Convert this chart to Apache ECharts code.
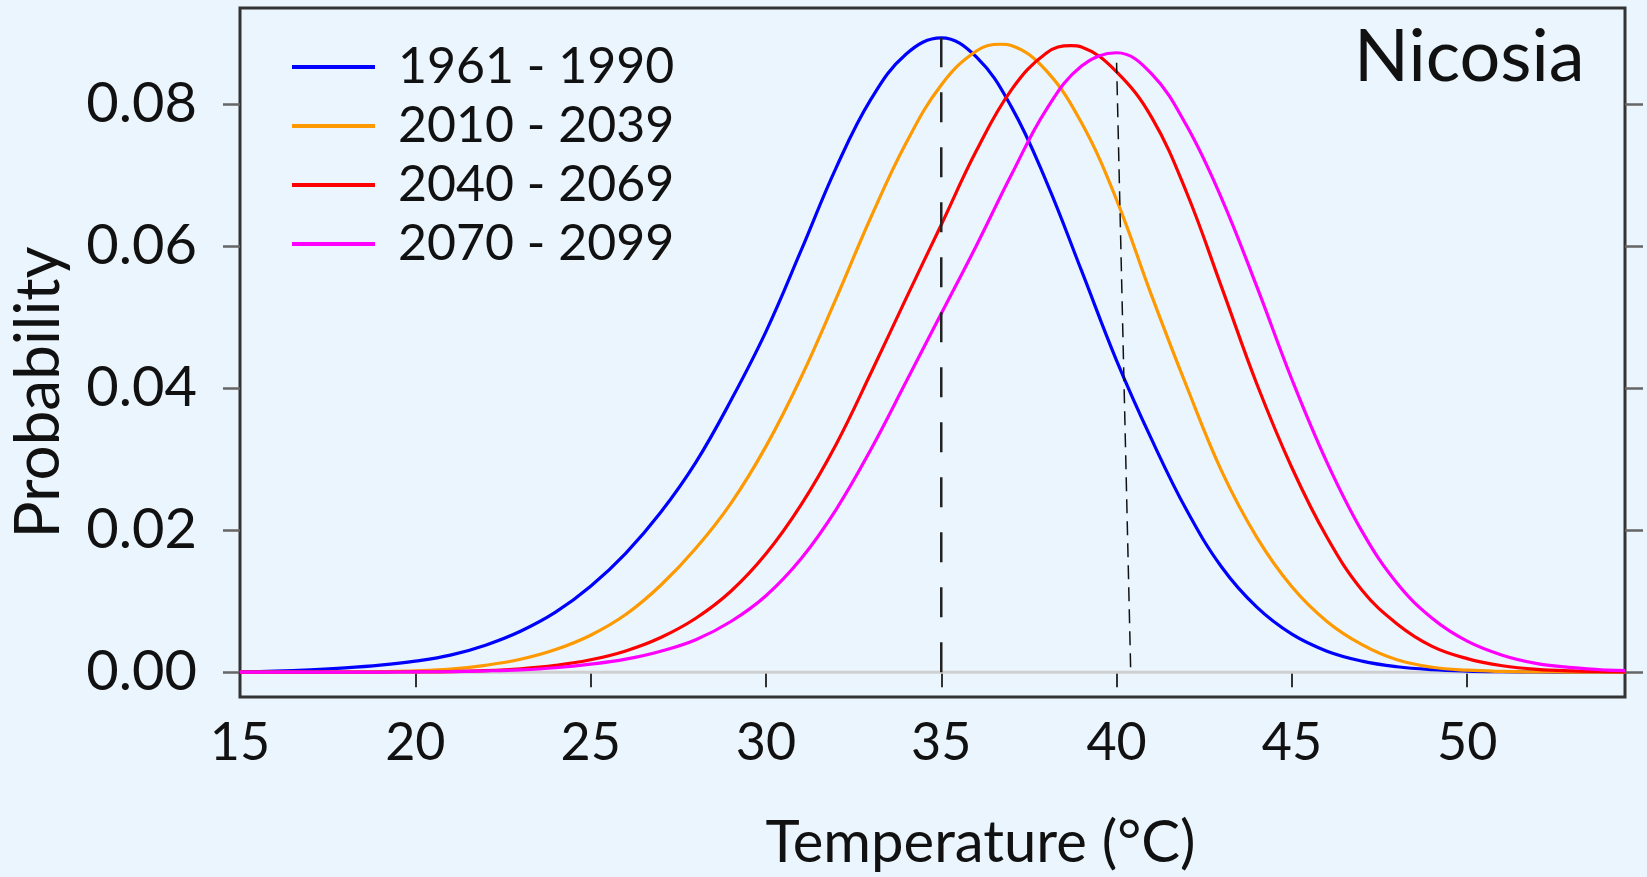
<!DOCTYPE html>
<html>
<head>
<meta charset="utf-8">
<title>Nicosia</title>
<script src="https://cdn.jsdelivr.net/npm/echarts@6/dist/echarts.min.js"></script>
<style>
  html, body {margin: 0; padding: 0; background: #eaf5fd;}
  #chart {width: 1647px; height: 877px;}
</style>
</head>
<body>
<div id="chart"></div>
<script>
// temperature grid (°C)
const temps = [15, 16, 17, 18, 19, 20, 21, 22, 23, 24, 25, 26, 27, 28, 29, 30, 31, 32, 33, 34,
    35, 36, 37, 38, 39, 40, 41, 42, 43, 44, 45, 46, 47, 48, 49, 50, 51, 52, 53, 54, 54.5];

const p1961 = [0.00004, 0.00014, 0.00032, 0.00059, 0.00098, 0.00155, 0.00239, 0.0038, 0.00576, 0.00844,
    0.01209, 0.01673, 0.0225, 0.02953, 0.03824, 0.04794, 0.05933, 0.071, 0.0807, 0.08703,
    0.08928, 0.08661, 0.07958, 0.06903, 0.05652, 0.04387, 0.03276, 0.02278, 0.01476, 0.00914,
    0.00534, 0.00295, 0.00155, 0.00076, 0.00035, 0.00015, 0.00006, 0.00002, 0.00001, 0, 0];

const p2010 = [0, 0.00001, 0.00001, 0.00004, 0.00008, 0.00018, 0.00042, 0.00096, 0.00181, 0.00318,
    0.0052, 0.00811, 0.01223, 0.01743, 0.02376, 0.03178, 0.04148, 0.05258, 0.06411, 0.07452,
    0.08267, 0.08745, 0.08823, 0.08464, 0.07733, 0.0665, 0.05301, 0.04021, 0.02826, 0.01898,
    0.01202, 0.00714, 0.00387, 0.00173, 0.00069, 0.00027, 0.0001, 0.00004, 0.00001, 0, 0];

const p2040 = [0, 0, 0, 0, 0.00001, 0.00004, 0.00008, 0.00021, 0.00048, 0.00096,
    0.00174, 0.00299, 0.00488, 0.00759, 0.01139, 0.01666, 0.02355, 0.03206, 0.04218, 0.05265,
    0.06299, 0.07339, 0.08197, 0.08717, 0.08802, 0.0845, 0.0781, 0.06749, 0.05413, 0.04056,
    0.02877, 0.01898, 0.01153, 0.00679, 0.00363, 0.0019, 0.0009, 0.00038, 0.00017, 0.00007, 0.00004];

const p2070 = [0, 0, 0, 0.00001, 0.00001, 0.00004, 0.00008, 0.00017, 0.00032, 0.00062,
    0.00112, 0.00183, 0.00295, 0.00457, 0.00713, 0.01076, 0.01596, 0.02289, 0.03142, 0.04091,
    0.05048, 0.06004, 0.07002, 0.07924, 0.08534, 0.08713, 0.08422, 0.07691, 0.06664, 0.05427,
    0.0412, 0.02953, 0.01982, 0.01251, 0.00759, 0.00436, 0.00239, 0.0012, 0.00063, 0.00028, 0.0002];

// the top of each curve
const peakTemps = [35.0, 36.7, 38.7, 40.0];
const peakValues = [0.0893, 0.0884, 0.0882, 0.0872];

const periods = ['1961 - 1990', '2010 - 2039', '2040 - 2069', '2070 - 2099'];
const colors = ['#0000ff', '#ff9900', '#ff0000', '#ff00ff'];
const yTicks = [0, 0.02, 0.04, 0.06, 0.08];

// dashed markers: mean of baseline period, and the tilted one near 40 °C
const meanLine = [[35.0, 0], [35.0, 0.0893]];
const hotLine = [[40.4, 0.0007], [40.0, 0.0858]];
const zeroLine = [[15, 0], [54.5, 0]];

const font = 'Lato';

const curve = (vals, i) => {
    const pts = temps.map((t, k) => [t, vals[k]]).filter(p => p[0] !== peakTemps[i]);
    pts.push([peakTemps[i], peakValues[i]]);
    return pts.sort((a, b) => a[0] - b[0]);
};

const chart = echarts.init(document.getElementById('chart'));

chart.setOption({
    backgroundColor: '#eaf5fd',
    animation: false,
    title: {
        text: 'Nicosia', left: 1354, top: 22, padding: 0,
        textStyle: {fontFamily: font, fontSize: 72, fontWeight: 'normal', color: '#111'}
    },
    legend: {
        data: periods, orient: 'vertical', left: 292, top: 42, padding: 0, itemGap: 9,
        icon: 'rect', itemWidth: 83, itemHeight: 4,
        textStyle: {fontFamily: font, fontSize: 50, color: '#111', lineHeight: 50, padding: [0, 0, 0, 18]}
    },
    grid: {
        left: 240, right: 22, top: 8, bottom: 179,
        show: true, borderColor: '#333', borderWidth: 3, backgroundColor: 'transparent'
    },
    xAxis: {
        type: 'value', min: 15, max: 54.5, interval: 5,
        name: 'Temperature (°C)', nameLocation: 'middle', nameGap: 117,
        nameTextStyle: {fontFamily: font, fontSize: 58, color: '#111', padding: [0, 0, 0, 96]},
        axisLine: {show: false},
        axisTick: {length: 15, lineStyle: {color: '#333', width: 2}},
        axisLabel: {fontFamily: font, fontSize: 52, color: '#111', margin: 20, showMaxLabel: false},
        splitLine: {show: false}
    },
    yAxis: [{
        type: 'value', min: -0.0035, max: 0.0935, position: 'left',
        name: 'Probability', nameLocation: 'middle', nameGap: 170, nameRotate: 90,
        nameTextStyle: {fontFamily: font, fontSize: 62, color: '#111', padding: [0, 80, 0, 0]},
        axisLine: {show: false},
        axisTick: {length: 17, customValues: yTicks, lineStyle: {color: '#666', width: 2.5}},
        axisLabel: {
            fontFamily: font, fontSize: 56, color: '#111', margin: 43, customValues: yTicks,
            formatter: (v) => v.toFixed(2)
        },
        splitLine: {show: false}
    }, {
        type: 'value', min: -0.0035, max: 0.0935, position: 'right',
        axisLine: {show: false},
        axisTick: {length: 18, customValues: yTicks, lineStyle: {color: '#666', width: 2.5}},
        axisLabel: {show: false},
        splitLine: {show: false}
    }],
    series: [
        {
            name: 'zero', type: 'line', data: zeroLine, showSymbol: false, silent: true, z: 1,
            lineStyle: {color: '#cfcfcf', width: 3}
        },
        ...[p1961, p2010, p2040, p2070].map((vals, i) => ({
            name: periods[i], type: 'line', data: curve(vals, i), showSymbol: false, smooth: 0.4,
            color: colors[i], lineStyle: {color: colors[i], width: 3.2}, z: 3
        })),
        {
            name: 'mean', type: 'line', data: meanLine, showSymbol: false, silent: true, z: 4,
            lineStyle: {color: '#222', width: 2.5, type: [30, 25]}
        },
        {
            name: 'hot', type: 'line', data: hotLine, showSymbol: false, silent: true, z: 4,
            lineStyle: {color: '#111', width: 1.5, type: [14, 8]}
        }
    ]
});
</script>
</body>
</html>
